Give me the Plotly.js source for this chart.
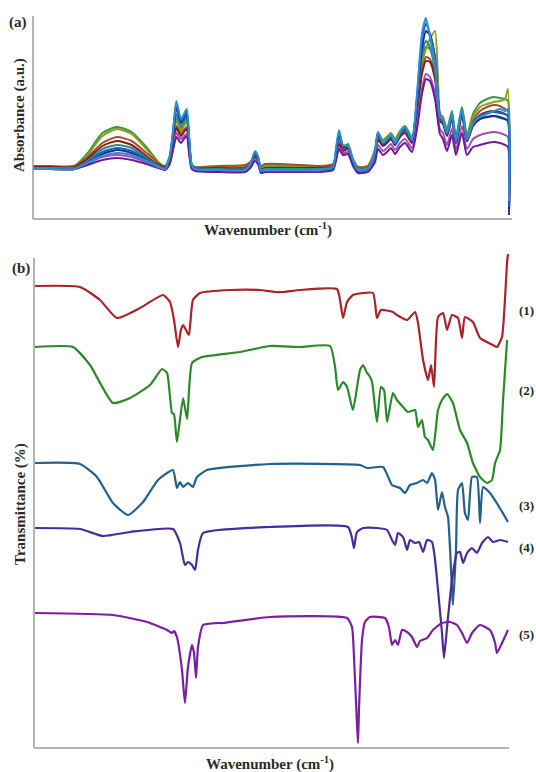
<!DOCTYPE html>
<html>
<head>
<meta charset="utf-8">
<script src="https://cdn.plot.ly/plotly-3.0.1.min.js"></script>
<style>html,body{margin:0;padding:0;background:#fff;}#chart{width:536px;height:772px;}</style>
</head>
<body>
<div id="chart"></div>
<script>
// ---------- Panel (a): absorbance spectra (shared wavenumber grid) ----------
const aWn = [4000,3870,3690,3590,3480,3370,3260,3150,3060,3010,
  2975,2945,2925,2890,2868,2847,2828,2810,2785,
  2600,2410,2370,2335,2310,2290,2260,2150,2000,1850,
  1750,1728,1705,1675,1638,1600,1563,1488,
  1435,1413,1375,1338,1315,1285,1248,1210,1158,
  1120,1083,1053,1023,985,948,
  925,895,858,828,783,745,
  700,648,595,543,498,460,438,430];

const aGreen = [0.52,0.52,0.53,0.66,0.86,0.92,0.87,0.72,0.57,0.53,
  0.63,0.86,1.00,0.90,0.95,0.99,0.75,0.55,0.52,
  0.52,0.52,0.56,0.64,0.59,0.51,0.52,0.52,0.52,0.52,
  0.54,0.66,0.82,0.72,0.75,0.60,0.52,0.53,
  0.70,0.86,0.79,0.83,0.86,0.80,0.88,0.93,0.82,
  1.15,1.60,1.72,1.70,1.50,1.05,
  1.02,0.90,1.08,0.82,1.12,0.84,
  1.05,1.16,1.20,1.22,1.21,1.20,1.18,0.15];
const aOlive = [0.52,0.52,0.52,0.64,0.83,0.90,0.85,0.70,0.56,0.52,
  0.62,0.84,0.98,0.88,0.93,0.97,0.74,0.55,0.52,
  0.53,0.53,0.56,0.63,0.58,0.51,0.53,0.54,0.53,0.52,
  0.54,0.64,0.80,0.71,0.73,0.59,0.52,0.53,
  0.68,0.84,0.78,0.82,0.85,0.79,0.87,0.91,0.81,
  1.10,1.55,1.70,1.80,1.88,1.05,
  1.00,0.88,1.05,0.80,1.10,0.82,
  1.02,1.12,1.15,1.17,1.18,1.20,1.30,0.20];
const aBrown = [0.53,0.53,0.53,0.62,0.76,0.82,0.78,0.66,0.56,0.52,
  0.60,0.80,0.93,0.85,0.89,0.92,0.70,0.54,0.52,
  0.53,0.54,0.57,0.63,0.58,0.53,0.55,0.55,0.54,0.53,
  0.55,0.63,0.76,0.69,0.71,0.58,0.52,0.53,
  0.66,0.81,0.75,0.79,0.82,0.76,0.84,0.88,0.78,
  1.08,1.48,1.62,1.60,1.45,1.00,
  0.97,0.85,1.02,0.78,1.06,0.80,
  0.98,1.08,1.12,1.14,1.13,1.10,1.08,0.12];
const aDarkRed = [0.52,0.52,0.52,0.60,0.73,0.78,0.74,0.63,0.54,0.52,
  0.59,0.78,0.91,0.83,0.87,0.90,0.68,0.53,0.51,
  0.51,0.51,0.55,0.62,0.57,0.50,0.51,0.51,0.51,0.51,
  0.53,0.62,0.75,0.68,0.70,0.57,0.50,0.51,
  0.64,0.79,0.73,0.77,0.80,0.74,0.82,0.86,0.76,
  1.05,1.45,1.58,1.57,1.40,0.98,
  0.95,0.83,1.00,0.76,1.04,0.78,
  0.95,1.04,1.07,1.08,1.07,1.05,1.03,0.10];
const aTeal = [0.51,0.51,0.51,0.58,0.70,0.74,0.71,0.61,0.53,0.51,
  0.61,0.88,1.05,0.92,0.98,1.02,0.76,0.54,0.51,
  0.50,0.50,0.55,0.66,0.60,0.49,0.50,0.50,0.50,0.50,
  0.52,0.66,0.84,0.72,0.73,0.58,0.50,0.51,
  0.66,0.84,0.76,0.80,0.83,0.76,0.84,0.89,0.79,
  1.15,1.65,1.78,1.72,1.50,1.00,
  0.97,0.85,1.03,0.78,1.06,0.79,
  0.94,1.00,1.02,1.03,1.01,1.00,0.98,0.10];
const aLightBlue = [0.50,0.50,0.50,0.56,0.63,0.66,0.64,0.58,0.52,0.50,
  0.62,0.95,1.18,1.00,1.05,1.10,0.80,0.54,0.50,
  0.49,0.49,0.55,0.68,0.62,0.48,0.49,0.49,0.49,0.49,
  0.52,0.70,0.89,0.74,0.73,0.59,0.49,0.50,
  0.67,0.87,0.76,0.81,0.84,0.76,0.86,0.92,0.79,
  1.25,1.85,2.01,1.82,1.55,1.02,
  0.99,0.86,1.06,0.78,1.10,0.80,
  0.96,1.02,1.05,1.08,1.10,1.08,1.10,0.18];
const aBlue = [0.50,0.50,0.50,0.57,0.67,0.71,0.68,0.60,0.52,0.50,
  0.61,0.93,1.15,0.98,1.03,1.08,0.79,0.53,0.50,
  0.49,0.49,0.54,0.67,0.61,0.48,0.48,0.48,0.48,0.48,
  0.51,0.68,0.87,0.73,0.72,0.58,0.48,0.49,
  0.66,0.86,0.75,0.80,0.83,0.75,0.85,0.91,0.78,
  1.22,1.80,1.95,1.85,1.60,1.03,
  0.98,0.85,1.05,0.77,1.08,0.79,
  0.95,1.03,1.06,1.07,1.06,1.05,1.03,0.12];
const aNavy = [0.50,0.50,0.50,0.56,0.65,0.69,0.66,0.59,0.52,0.50,
  0.60,0.90,1.12,0.96,1.01,1.06,0.78,0.53,0.50,
  0.49,0.49,0.54,0.66,0.60,0.48,0.48,0.48,0.48,0.48,
  0.51,0.66,0.85,0.72,0.71,0.57,0.48,0.49,
  0.65,0.85,0.74,0.79,0.82,0.74,0.84,0.90,0.77,
  1.18,1.70,1.88,1.84,1.62,1.02,
  0.97,0.84,1.03,0.76,1.06,0.78,
  0.93,1.00,1.02,1.03,1.02,1.00,0.98,0.10];
const aMagenta = [0.51,0.51,0.51,0.56,0.62,0.64,0.62,0.57,0.52,0.50,
  0.56,0.74,0.86,0.80,0.83,0.85,0.66,0.51,0.49,
  0.48,0.48,0.52,0.60,0.56,0.47,0.48,0.48,0.48,0.48,
  0.50,0.60,0.72,0.66,0.67,0.55,0.47,0.48,
  0.60,0.74,0.68,0.72,0.75,0.69,0.76,0.80,0.71,
  0.95,1.30,1.45,1.42,1.25,0.90,
  0.86,0.74,0.90,0.69,0.93,0.70,
  0.80,0.84,0.86,0.87,0.86,0.84,0.82,0.08];
const aPurple = [0.50,0.50,0.50,0.54,0.59,0.61,0.59,0.55,0.51,0.49,
  0.55,0.72,0.82,0.76,0.80,0.83,0.64,0.50,0.48,
  0.47,0.47,0.51,0.58,0.54,0.46,0.47,0.47,0.47,0.47,
  0.49,0.58,0.70,0.64,0.65,0.53,0.46,0.47,
  0.57,0.70,0.64,0.68,0.71,0.65,0.72,0.76,0.67,
  0.90,1.25,1.40,1.38,1.20,0.85,
  0.80,0.68,0.84,0.64,0.86,0.64,
  0.72,0.74,0.76,0.77,0.76,0.74,0.72,0.04];

const aSeries = [
  ["#3a9a3a", aGreen], ["#8f9c1f", aOlive], ["#a0522d", aBrown], ["#8b1a1a", aDarkRed],
  ["#2a8c8c", aTeal], ["#a64fb0", aMagenta], ["#6a1b9a", aPurple], ["#1b2c8f", aNavy],
  ["#1f5fb8", aBlue], ["#2b8fd1", aLightBlue]
];

// ---------- Panel (b): transmittance spectra (offset) ----------
const b1Wn = [3992,3655,3505,3378,3205,3032,2980,2950,2920,2898,2882,2860,2838,2808,2755,2530,2305,2192,2132,2005,1728,1705,1682,1652,1608,1458,1428,1398,1308,1278,1202,1142,1120,1082,1045,1022,1000,970,932,902,865,820,790,768,708,655,558,528,490,468,452,445];
const b1T  = [92.4,92.2,89.6,86.0,88.0,90.6,89.2,85.6,80.2,83.6,84.6,83.6,82.6,89.6,91.0,91.6,91.6,91.2,91.2,91.6,91.8,89.6,86.0,89.2,90.6,91.0,86.0,87.6,87.2,86.6,85.6,87.2,85.0,77.6,73.6,76.6,72.2,86.2,87.0,83.6,86.6,86.0,82.0,86.2,85.2,82.0,80.6,80.2,82.2,89.6,97.2,98.8];

const b2Wn = [3992,3708,3580,3408,3280,3130,3040,3002,2965,2950,2928,2882,2852,2815,2740,2455,2230,2005,1780,1742,1720,1682,1652,1608,1555,1532,1502,1488,1465,1428,1398,1375,1352,1308,1278,1232,1195,1142,1120,1090,1068,1045,1008,970,940,902,858,805,752,708,655,602,565,542,505,482,452];
const b2T  = [80.2,80.2,76.6,69.0,70.0,72.6,75.8,75.0,67.0,66.8,61.2,70.0,65.8,77.0,78.2,79.2,80.4,80.2,80.4,76.2,71.6,73.2,72.2,67.6,75.6,76.6,75.0,74.6,73.2,65.2,72.2,71.6,65.2,71.0,69.6,68.2,67.2,67.6,64.2,65.6,62.2,61.6,59.6,67.6,69.6,70.8,69.0,63.6,61.0,57.0,54.2,53.0,53.6,57.0,59.6,69.6,81.6];

const b3Wn = [3992,3655,3528,3408,3295,3182,3070,2958,2928,2905,2882,2845,2808,2778,2702,2230,1555,1502,1382,1315,1255,1218,1180,1128,1082,1052,1015,992,970,940,918,895,865,858,835,820,790,768,745,715,678,655,632,580,520,445];
const b3T  = [57.0,56.8,54.2,49.0,46.6,49.2,53.6,55.6,52.0,53.2,52.2,53.0,52.2,54.2,55.6,56.8,56.6,56.0,56.2,52.6,52.0,51.0,52.6,53.0,53.6,53.0,55.0,53.6,47.6,51.2,48.2,46.2,31.6,28.6,39.6,51.6,53.0,47.0,45.6,54.2,54.2,45.0,52.2,51.0,48.6,45.2];

const b4Wn = [3992,3655,3482,3280,2958,2905,2868,2845,2815,2792,2770,2732,2230,1645,1615,1600,1578,1532,1428,1352,1315,1292,1270,1232,1202,1180,1142,1112,1082,1052,1015,992,970,940,925,902,865,828,805,782,752,715,678,640,595,558,505,445];
const b4T  = [44.0,43.8,42.4,43.2,43.8,41.0,36.6,37.2,36.6,35.6,39.6,43.0,44.2,44.2,42.0,40.0,43.2,44.0,44.0,43.6,41.6,40.6,43.0,42.2,39.6,41.6,41.0,41.2,39.2,41.6,41.2,37.6,31.6,23.0,18.0,24.2,33.6,39.0,39.2,37.0,39.0,40.0,39.0,41.0,42.2,41.2,41.6,41.2];

const b5Wn = [3992,3408,3152,3002,2965,2950,2928,2890,2868,2845,2815,2800,2785,2770,2732,2628,2582,2230,1652,1615,1600,1578,1570,1562,1540,1518,1480,1368,1338,1315,1292,1270,1240,1202,1165,1128,1105,1052,1008,940,880,828,790,752,715,655,580,542,528,490,445];
const b5T  = [27.0,26.6,25.2,23.6,23.0,23.4,22.2,15.6,9.0,16.2,20.6,19.0,14.0,20.2,24.6,25.0,25.0,26.2,26.0,24.2,18.2,5.0,1.0,8.2,21.6,25.2,26.2,26.0,24.2,20.6,21.6,20.6,23.6,23.2,22.2,20.2,21.4,22.0,23.6,25.0,25.2,24.6,23.0,21.0,23.0,24.6,23.6,21.0,19.0,21.0,23.6];

const bSeries = [
  ["#a8232b", b1Wn, b1T], ["#2a8a2a", b2Wn, b2T], ["#21618c", b3Wn, b3T],
  ["#4b2a9c", b4Wn, b4T], ["#7b1fa2", b5Wn, b5T]
];
const bLabels = ["(1)", "(2)", "(3)", "(4)", "(5)"];
const bLabelPy = [310, 390, 505, 547, 634];

// ---------- build ----------
const W = 536, H = 772;
const px = v => v / W;
const py = v => 1 - v / H;

const traces = [];
aSeries.forEach(([c, ys]) => traces.push({
  x: aWn, y: ys, type: "scatter", mode: "lines", xaxis: "x", yaxis: "y",
  line: {color: c, width: 2, shape: "spline", smoothing: 0.6}, hoverinfo: "skip", showlegend: false
}));
bSeries.forEach(([c, xs, ys]) => traces.push({
  x: xs, y: ys, type: "scatter", mode: "lines", xaxis: "x2", yaxis: "y2",
  line: {color: c, width: 2.2, shape: "spline", smoothing: 0.5}, hoverinfo: "skip", showlegend: false
}));

const hidden = {showticklabels: false, ticks: "", showgrid: false, zeroline: false, showline: false, fixedrange: true};
const axisColor = "#9a9a9a";
const serif = {family: "Liberation Serif, Times New Roman, serif", size: 15, color: "#2a2a2a"};

const ann = (text, x, y, extra) => Object.assign({
  text: text, xref: "paper", yref: "paper", x: px(x), y: py(y),
  showarrow: false, font: serif, xanchor: "center", yanchor: "middle"
}, extra || {});

const annotations = [
  ann("<b>(a)</b>", 18, 23),
  ann("<b>Absorbance (a.u.)</b>", 20, 115, {textangle: -90}),
  ann("<b>Wavenumber (cm<sup>-1</sup>)</b>", 268, 230),
  ann("<b>(b)</b>", 21, 268),
  ann("<b>Transmittance (%)</b>", 20, 504, {textangle: -90}),
  ann("<b>Wavenumber (cm<sup>-1</sup>)</b>", 270, 763)
];
bLabels.forEach((t, i) => annotations.push(ann("<b>" + t + "</b>", 517, bLabelPy[i], {xanchor: "left", font: Object.assign({}, serif, {size: 13})})));

const shapes = [
  {type: "line", xref: "paper", yref: "paper", x0: px(33), x1: px(33), y0: py(16), y1: py(219), line: {color: axisColor, width: 1.5}},
  {type: "line", xref: "paper", yref: "paper", x0: px(33), x1: px(512), y0: py(219), y1: py(219), line: {color: axisColor, width: 1.5}},
  {type: "line", xref: "paper", yref: "paper", x0: px(34), x1: px(34), y0: py(258), y1: py(748), line: {color: axisColor, width: 1.5}},
  {type: "line", xref: "paper", yref: "paper", x0: px(34), x1: px(509), y0: py(748), y1: py(748), line: {color: axisColor, width: 1.5}}
];

const layout = {
  width: W, height: H, margin: {l: 0, r: 0, t: 0, b: 0},
  paper_bgcolor: "#fff", plot_bgcolor: "rgba(0,0,0,0)", showlegend: false,
  xaxis: Object.assign({}, hidden, {domain: [px(33), px(512)], range: [4000, 407.5], anchor: "y"}),
  yaxis: Object.assign({}, hidden, {domain: [py(219), py(16)], range: [0, 2.03], anchor: "x"}),
  xaxis2: Object.assign({}, hidden, {domain: [px(34), px(512)], range: [4000, 415], anchor: "y2"}),
  yaxis2: Object.assign({}, hidden, {domain: [py(748), py(252)], range: [0, 99.2], anchor: "x2"}),
  annotations: annotations, shapes: shapes
};

Plotly.newPlot("chart", traces, layout, {staticPlot: true, displayModeBar: false});
</script>
</body>
</html>
